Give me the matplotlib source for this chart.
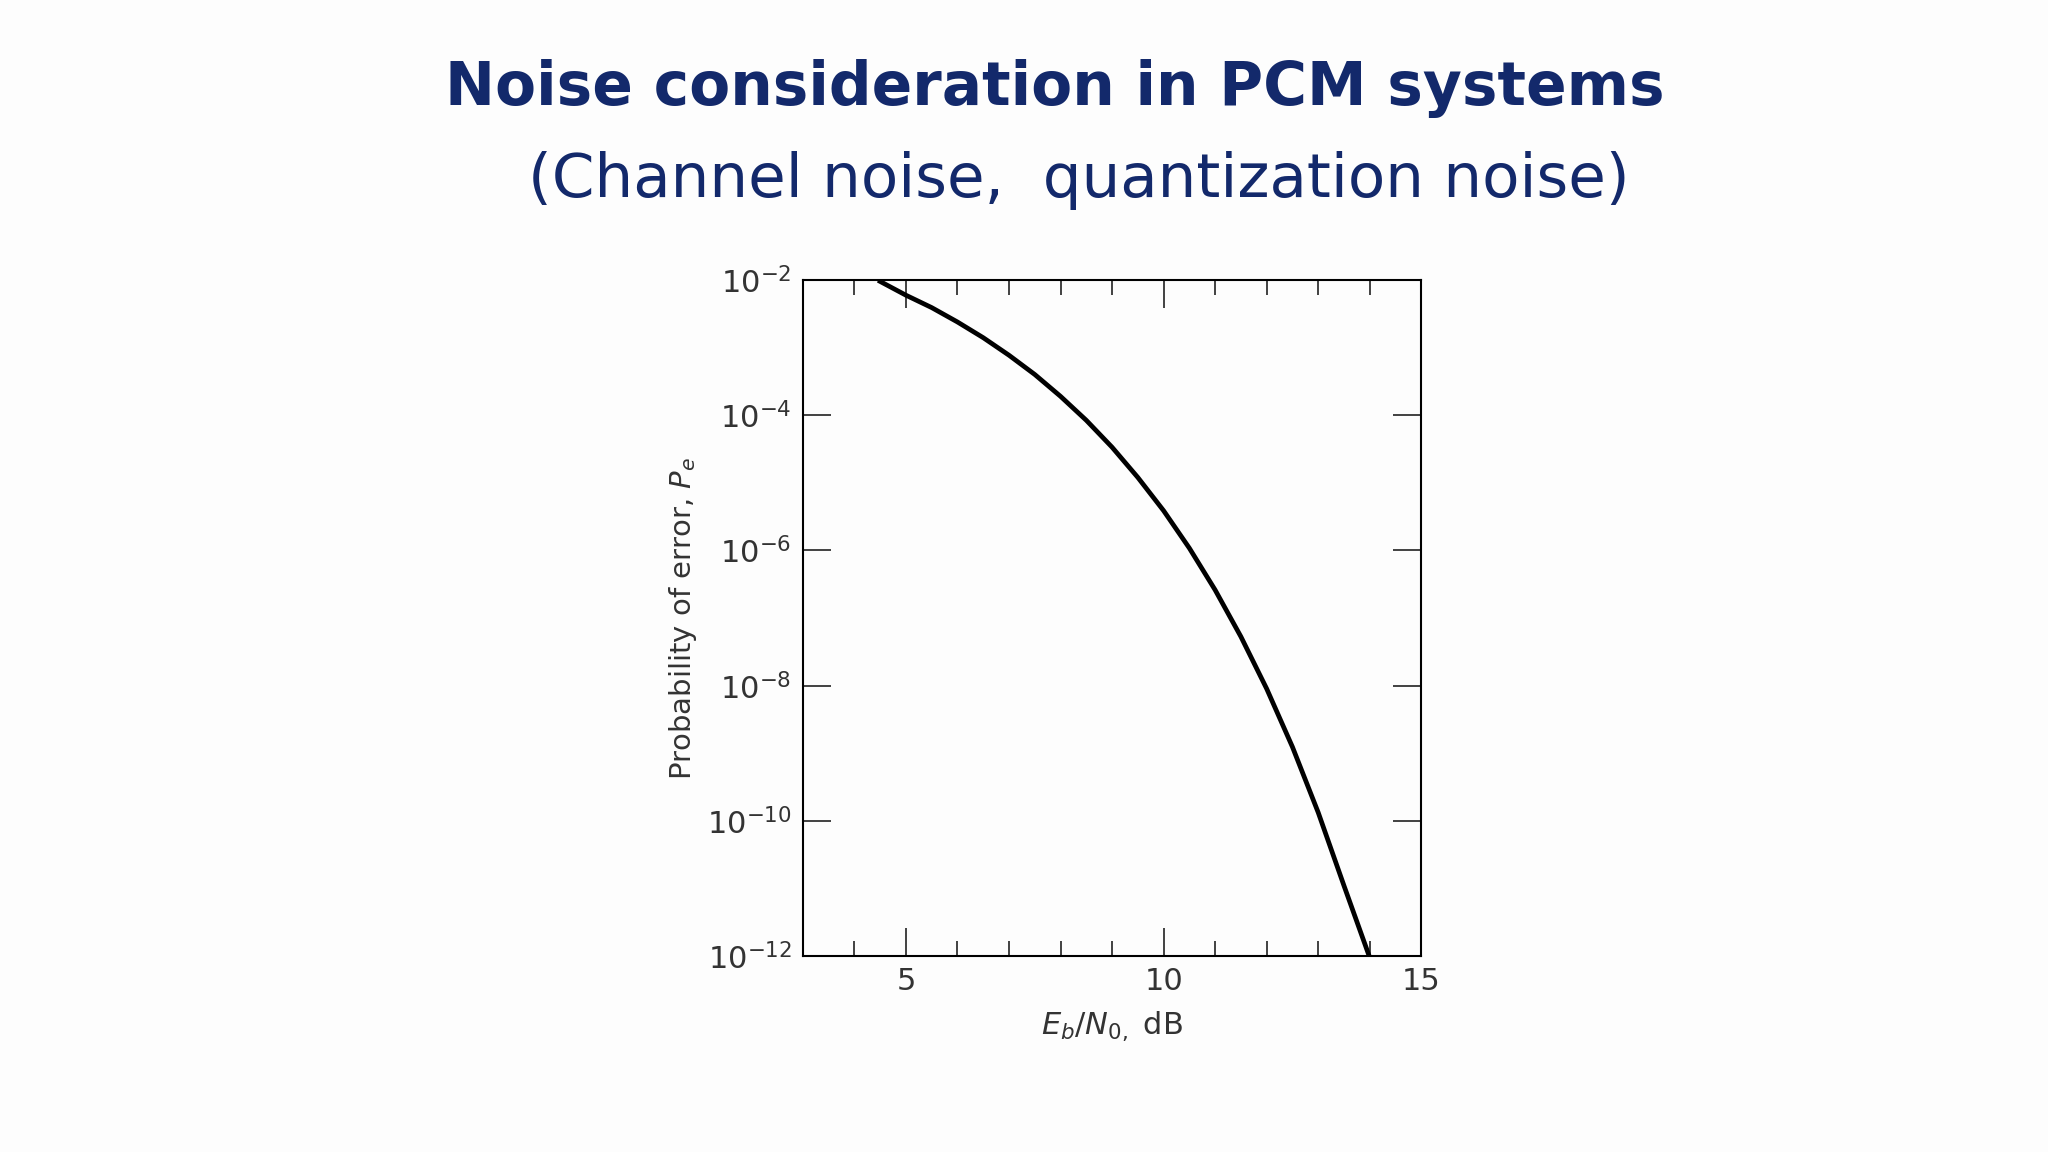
import matplotlib
matplotlib.use("Agg")
import matplotlib.pyplot as plt
import numpy as np

ebn0_db = [4.5, 5, 5.5, 6, 6.5, 7, 7.5, 8, 8.5, 9, 9.5, 10, 10.5, 11, 11.5, 12, 12.5, 13, 13.5, 14]
pe = [9.5e-3, 5.95e-3, 3.9e-3, 2.39e-3, 1.4e-3, 7.7e-4, 4.0e-4, 1.9e-4, 8.4e-5, 3.36e-5,
      1.2e-5, 3.87e-6, 1.08e-6, 2.6e-7, 5.3e-8, 9.0e-9, 1.24e-9, 1.33e-10, 1.1e-11, 9.5e-13]

fig = plt.figure(figsize=(20.48, 11.52), dpi=100, facecolor="#fdfdfd")
navy = "#13296b"
fig.text(0.515, 0.923, "Noise consideration in PCM systems", ha="center", va="center",
         fontsize=43, fontweight="bold", color=navy, family="DejaVu Sans")
fig.text(0.527, 0.843, "(Channel noise,  quantization noise)", ha="center", va="center",
         fontsize=44, color=navy, family="DejaVu Sans")

ax = fig.add_axes([0.392, 0.170, 0.302, 0.587])
ax.set_facecolor("#fdfdfd")
ax.semilogy(ebn0_db, pe, color="black", lw=3.4, solid_joinstyle="round")
ax.set_xlim(3, 15)
ax.set_ylim(1e-12, 1e-2)
ax.set_xticks([5, 10, 15])
ax.set_xticks(np.arange(3, 15, 1), minor=True)
ax.set_yticks([1e-12, 1e-10, 1e-8, 1e-6, 1e-4, 1e-2])
ax.yaxis.set_minor_locator(matplotlib.ticker.NullLocator())
ax.tick_params(which="both", direction="in", top=True, right=True, labelsize=22, colors="#333333", pad=8)
ax.tick_params(which="major", length=20, width=1.3)
ax.tick_params(which="minor", length=11, width=1.3)
for s in ax.spines.values():
    s.set_linewidth(1.5)
ax.set_xlabel(r"$E_b/N_{0,}$ dB", fontsize=22, color="#333333", labelpad=10)
ax.set_ylabel(r"Probability of error, $P_e$", fontsize=21, color="#333333", labelpad=6)
fig.savefig("out.png", dpi=100, facecolor=fig.get_facecolor())
